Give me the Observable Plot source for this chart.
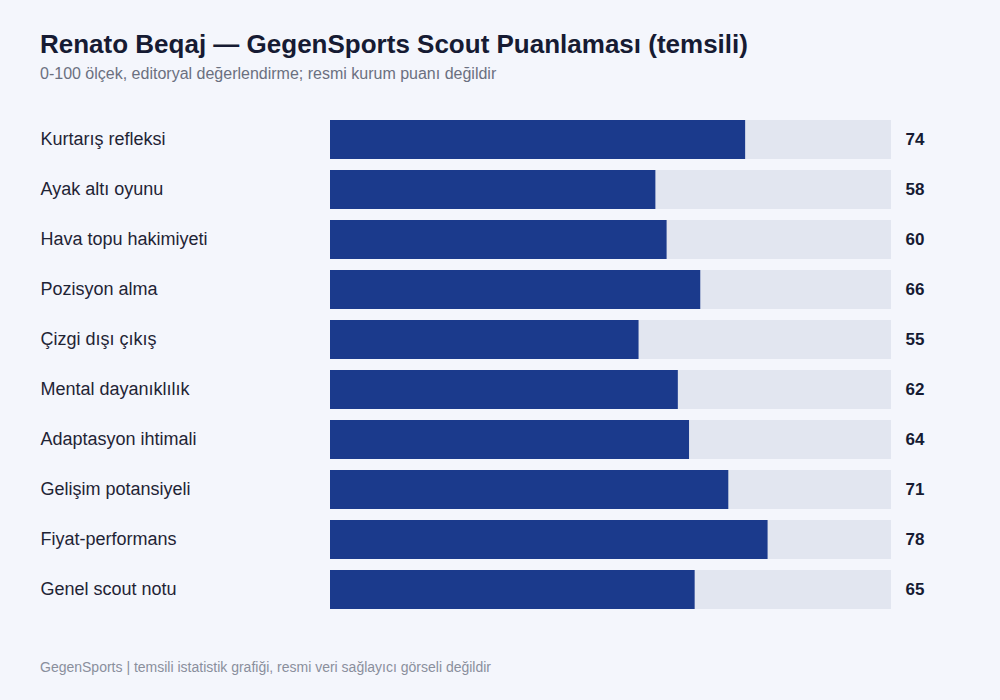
<!DOCTYPE html>
<html>
<head>
<meta charset="utf-8">
<script src="https://cdn.jsdelivr.net/npm/d3@7"></script>
<script src="https://cdn.jsdelivr.net/npm/@observablehq/plot@0.6"></script>
<style>
  html, body { margin: 0; padding: 0; background: #f4f6fc; width: 1000px; height: 700px; overflow: hidden; }
  body { font-family: "Liberation Sans", Arial, sans-serif; position: relative; }
  #title { position: absolute; left: 40px; top: 29px; font-size: 26px; font-weight: bold; color: #161b33; }
  #subtitle { position: absolute; left: 40px; top: 65px; font-size: 16px; color: #6b7080; }
  #chart { position: absolute; left: 0; top: 99px; }
  #footer { position: absolute; left: 40px; top: 659px; font-size: 14px; color: #8a8f9c; }
</style>
</head>
<body>
<div id="title">Renato Beqaj — GegenSports Scout Puanlaması (temsili)</div>
<div id="subtitle">0-100 ölçek, editoryal değerlendirme; resmi kurum puanı değildir</div>
<div id="chart"></div>
<div id="footer">GegenSports | temsili istatistik grafiği, resmi veri sağlayıcı görseli değildir</div>
<script>
const categories = ["Kurtarış refleksi", "Ayak altı oyunu", "Hava topu hakimiyeti", "Pozisyon alma", "Çizgi dışı çıkış", "Mental dayanıklılık", "Adaptasyon ihtimali", "Gelişim potansiyeli", "Fiyat-performans", "Genel scout notu"];
const scores = [74, 58, 60, 66, 55, 62, 64, 71, 78, 65];
const maxScore = 100;

const data = categories.map((c, i) => ({category: c, score: scores[i], max: maxScore}));

const chart = Plot.plot({
  width: 1000,
  height: 530,
  marginLeft: 330,
  marginRight: 109,
  marginTop: 15,
  marginBottom: 15,
  style: {background: "transparent", fontFamily: "'Liberation Sans', Arial, sans-serif"},
  x: {domain: [0, 100], axis: null},
  y: {domain: categories, axis: null, paddingInner: 0.22, paddingOuter: 0.11},
  marks: [
    Plot.barX(data, {y: "category", x1: 0, x2: "max", fill: "#e2e6f0"}),
    Plot.barX(data, {y: "category", x1: 0, x2: "score", fill: "#1b3a8c"}),
    Plot.text(data, {y: "category", x: 0, text: "category", textAnchor: "start", dx: -290, dy: -0.5, fontSize: 18, fill: "#1f2435"}),
    Plot.text(data, {y: "category", x: "max", text: d => String(d.score), textAnchor: "start", dx: 14, fontSize: 17, fontWeight: "bold", fill: "#161b33"})
  ]
});
document.getElementById("chart").appendChild(chart);
</script>
</body>
</html>
